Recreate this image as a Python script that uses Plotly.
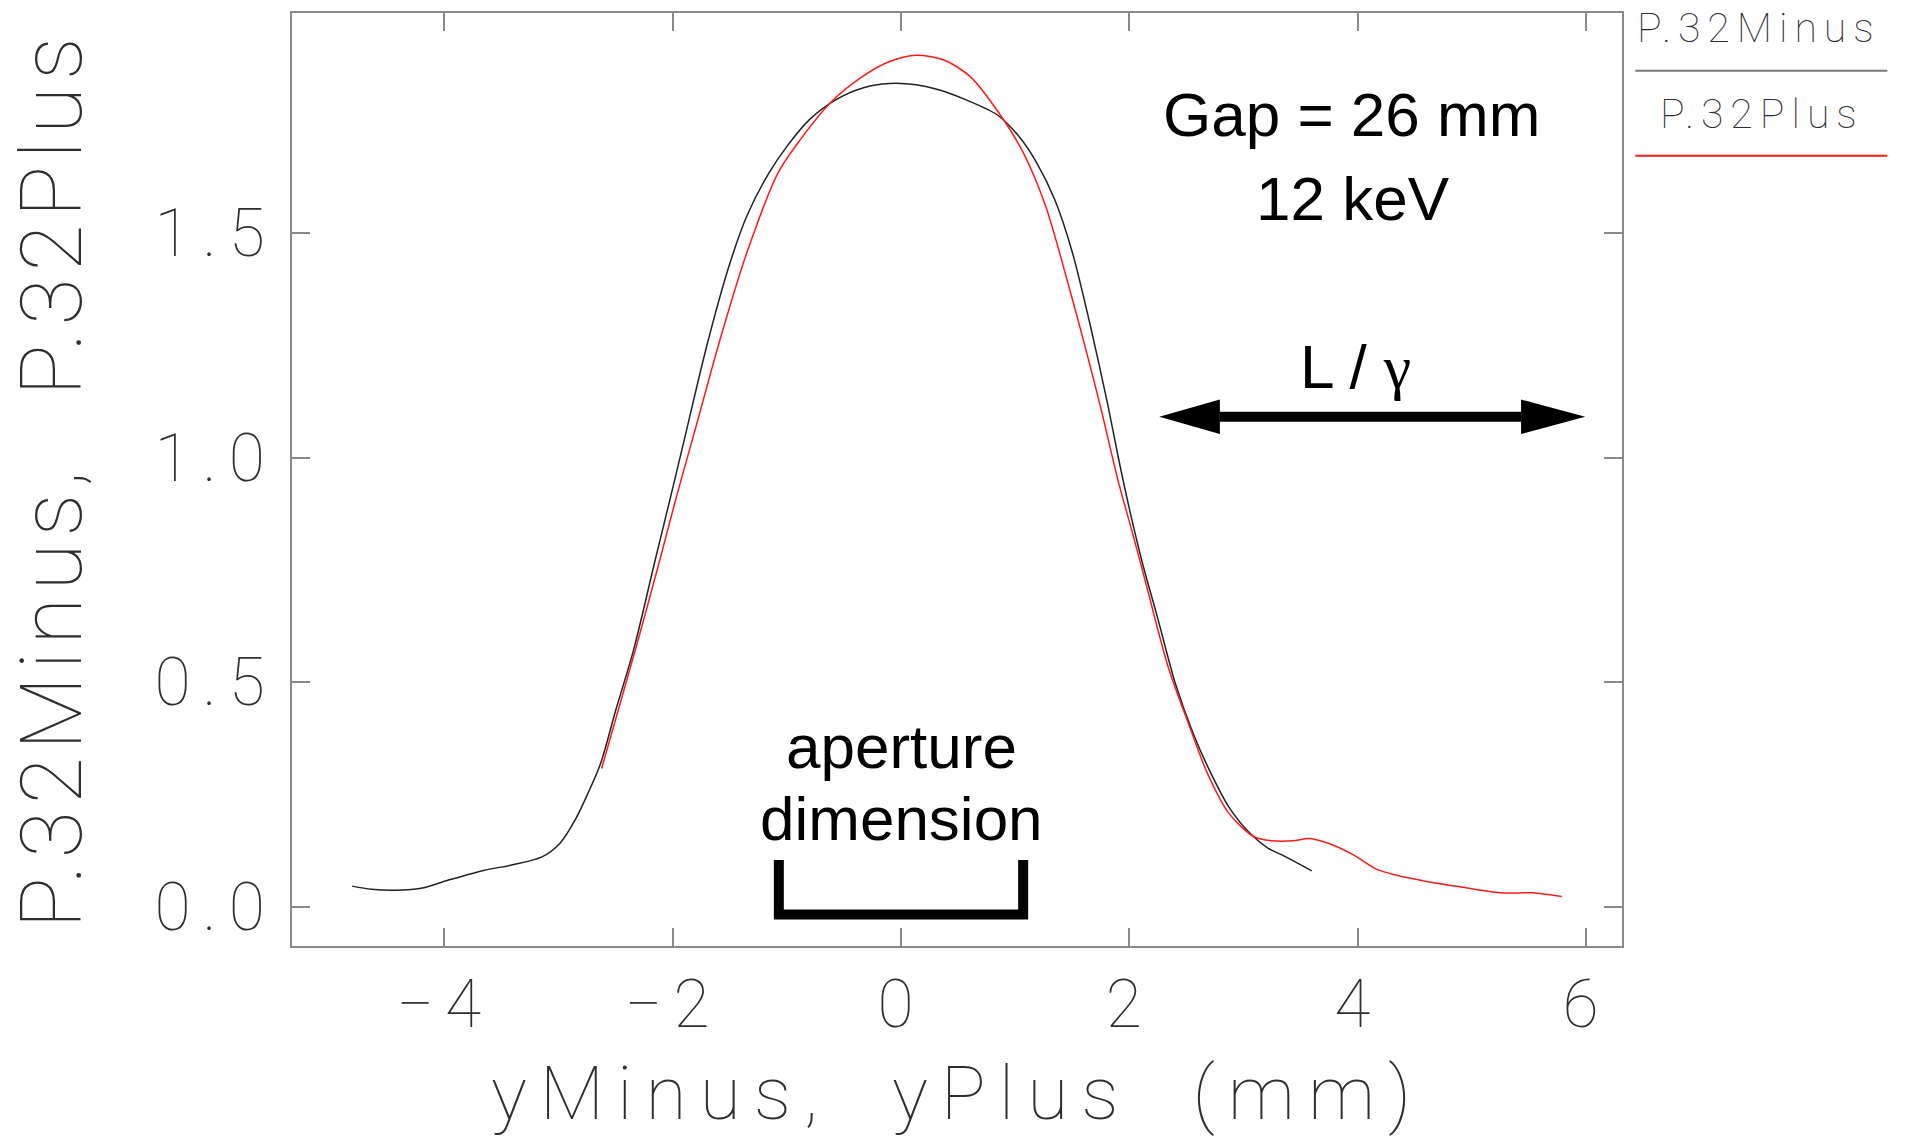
import plotly.graph_objects as go

# Series names
minus_name = "P.32Minus"
plus_name = "P.32Plus"

# P.32Minus profile
y_minus_mm = [-4.807, -4.638, -4.370, -4.192, -3.969, -3.657, -3.390, -3.145, -2.989,
              -2.855, -2.743, -2.631, -2.498, -2.342, -2.153, -2.030, -1.899, -1.703,
              -1.507, -1.352, -1.156, -0.999, -0.804, -0.569, -0.335, -0.100, 0.135,
              0.330, 0.565, 0.838, 1.034, 1.190, 1.347, 1.503, 1.660, 1.812, 1.902,
              1.996, 2.115, 2.246, 2.403, 2.559, 2.715, 2.872, 3.059, 3.216, 3.341, 3.597]
p32_minus = [0.046, 0.039, 0.0375, 0.042, 0.059, 0.081, 0.094, 0.111, 0.141,
             0.193, 0.252, 0.319, 0.438, 0.572, 0.772, 0.900, 1.039, 1.247,
             1.426, 1.537, 1.634, 1.693, 1.752, 1.797, 1.823, 1.833, 1.830,
             1.819, 1.797, 1.764, 1.715, 1.656, 1.574, 1.455, 1.292, 1.117, 1.002,
             0.891, 0.765, 0.645, 0.497, 0.386, 0.297, 0.222, 0.163, 0.130, 0.115, 0.080]

# P.32Plus profile
y_plus_mm = [-2.622, -2.319, -2.120, -1.970, -1.800, -1.586, -1.352, -1.077, -0.882,
             -0.608, -0.335, -0.100, 0.135, 0.370, 0.604, 0.878, 1.073, 1.268,
             1.450, 1.620, 1.760, 1.900, 2.030, 2.152, 2.340, 2.528, 2.684, 2.872, 3.091,
             3.247, 3.435, 3.575, 3.748, 3.967, 4.154, 4.342, 4.592, 4.905, 5.249,
             5.531, 5.787]
p32_plus = [0.308, 0.579, 0.765, 0.910, 1.065, 1.262, 1.455, 1.634, 1.708,
            1.793, 1.849, 1.882, 1.896, 1.886, 1.849, 1.760, 1.678, 1.559,
            1.400, 1.240, 1.100, 0.950, 0.830, 0.713, 0.534, 0.401, 0.297, 0.208, 0.156,
            0.147, 0.147, 0.152, 0.141, 0.115, 0.085, 0.070, 0.057, 0.044, 0.031,
            0.031, 0.023]

# Axis ticks
x_tick_vals = [-4, -2, 0, 2, 4, 6]
x_tick_text = ["\u22124", "\u22122", "0", "2", "4", "6"]
y_tick_vals = [0.0, 0.5, 1.0, 1.5]
y_tick_text = ["0.0", "0.5", "1.0", "1.5"]

x_range = [-5.334, 6.315]
y_range = [-0.0873, 1.990]

STROKE_FONT = "Roboto"
STROKE_WEIGHT = 100
TEXT_GREY = "#2e2e2e"
FRAME_GREY = "#8a8a8a"
LABEL_FONT = "Liberation Sans"


def spaced(text, letter, word=0):
    return "<span style='letter-spacing:%dpx;word-spacing:%dpx'>%s</span>" % (letter, word, text)


def stroke_font(size):
    return dict(family=STROKE_FONT, size=size, color=TEXT_GREY, weight=STROKE_WEIGHT)


fig = go.Figure()
fig.add_trace(go.Scatter(x=y_minus_mm, y=p32_minus, mode="lines", name=minus_name,
                         line=dict(color="#222222", width=1.5, shape="spline", smoothing=0.8)))
fig.add_trace(go.Scatter(x=y_plus_mm, y=p32_plus, mode="lines", name=plus_name,
                         line=dict(color="#ff1a1a", width=1.5, shape="spline", smoothing=0.8)))

axis_common = dict(
    showline=True, mirror="ticks", linecolor=FRAME_GREY, linewidth=2,
    ticks="inside", ticklen=18, tickwidth=2, tickcolor=FRAME_GREY,
    showgrid=False, zeroline=False,
    tickfont=stroke_font(66),
)

fig.update_xaxes(range=x_range, tickmode="array", tickvals=x_tick_vals,
                 ticktext=[spaced(t, 11) for t in x_tick_text], **axis_common)
fig.update_yaxes(range=y_range, tickmode="array", tickvals=y_tick_vals,
                 ticktext=[spaced(t, 12) for t in y_tick_text], **axis_common)

annotations = [
    # axis titles
    dict(text=spaced("yMinus, yPlus (mm)", 13, 30), xref="paper", yref="paper",
         x=0.5, y=-0.1573, xanchor="center", yanchor="middle", showarrow=False,
         font=stroke_font(75)),
    dict(text=spaced("P.32Minus, P.32Plus", 7, 40), xref="paper", yref="paper",
         x=-0.181, y=0.5, xanchor="center", yanchor="middle", textangle=-90, showarrow=False,
         font=stroke_font(86)),
    # legend entries
    dict(text=spaced(minus_name, 7), xref="paper", yref="paper",
         x=1.1029, y=0.9842, xanchor="center", yanchor="middle", showarrow=False,
         font=stroke_font(41)),
    dict(text=spaced(plus_name, 7), xref="paper", yref="paper",
         x=1.1056, y=0.8920, xanchor="center", yanchor="middle", showarrow=False,
         font=stroke_font(41)),
    # labels inside the plot
    dict(text="Gap = 26 mm", x=3.949, y=1.763, xanchor="center", yanchor="middle",
         showarrow=False, font=dict(family=LABEL_FONT, size=62, color="black")),
    dict(text="12 keV", x=3.957, y=1.578, xanchor="center", yanchor="middle",
         showarrow=False, font=dict(family=LABEL_FONT, size=62, color="black")),
    dict(text="L / <span style='font-family:Liberation Serif'>\u03b3</span>",
         x=3.98, y=1.204, xanchor="center", yanchor="middle",
         showarrow=False, font=dict(family=LABEL_FONT, size=62, color="black")),
    dict(text="aperture", x=0.0, y=0.357, xanchor="center", yanchor="middle",
         showarrow=False, font=dict(family=LABEL_FONT, size=62, color="black")),
    dict(text="dimension", x=0.0, y=0.1965, xanchor="center", yanchor="middle",
         showarrow=False, font=dict(family=LABEL_FONT, size=62, color="black")),
]

# L/gamma double arrow and aperture bracket
arrow_y, arrow_half = 1.091, 0.0383
left_tip, left_base, right_base, right_tip = 2.262, 2.793, 5.431, 5.993
ap_half, ap_top, ap_bottom = 1.07, 0.104, -0.017

shapes = [
    dict(type="line", x0=left_base, x1=right_base, y0=arrow_y, y1=arrow_y,
         line=dict(color="black", width=10)),
    dict(type="path", path="M %g,%g L %g,%g L %g,%g Z" % (
        left_tip, arrow_y, left_base, arrow_y + arrow_half, left_base, arrow_y - arrow_half),
         fillcolor="black", line=dict(color="black", width=0)),
    dict(type="path", path="M %g,%g L %g,%g L %g,%g Z" % (
        right_tip, arrow_y, right_base, arrow_y + arrow_half, right_base, arrow_y - arrow_half),
         fillcolor="black", line=dict(color="black", width=0)),
    dict(type="path", path="M %g,%g L %g,%g L %g,%g L %g,%g" % (
        -ap_half, ap_top, -ap_half, ap_bottom, ap_half, ap_bottom, ap_half, ap_top),
         line=dict(color="black", width=10)),
    # legend lines
    dict(type="line", xref="paper", yref="paper", x0=1.0100, x1=1.1995, y0=0.9381, y1=0.9381,
         line=dict(color="#7a7a7a", width=2)),
    dict(type="line", xref="paper", yref="paper", x0=1.0100, x1=1.1995, y0=0.8470, y1=0.8470,
         line=dict(color="#ff1a1a", width=2)),
]

fig.update_layout(
    width=1906, height=1137, autosize=False,
    margin=dict(l=292, r=284, t=13, b=191),
    paper_bgcolor="white", plot_bgcolor="white",
    showlegend=False,
    annotations=annotations,
    shapes=shapes,
)

fig.write_html("out.html")
